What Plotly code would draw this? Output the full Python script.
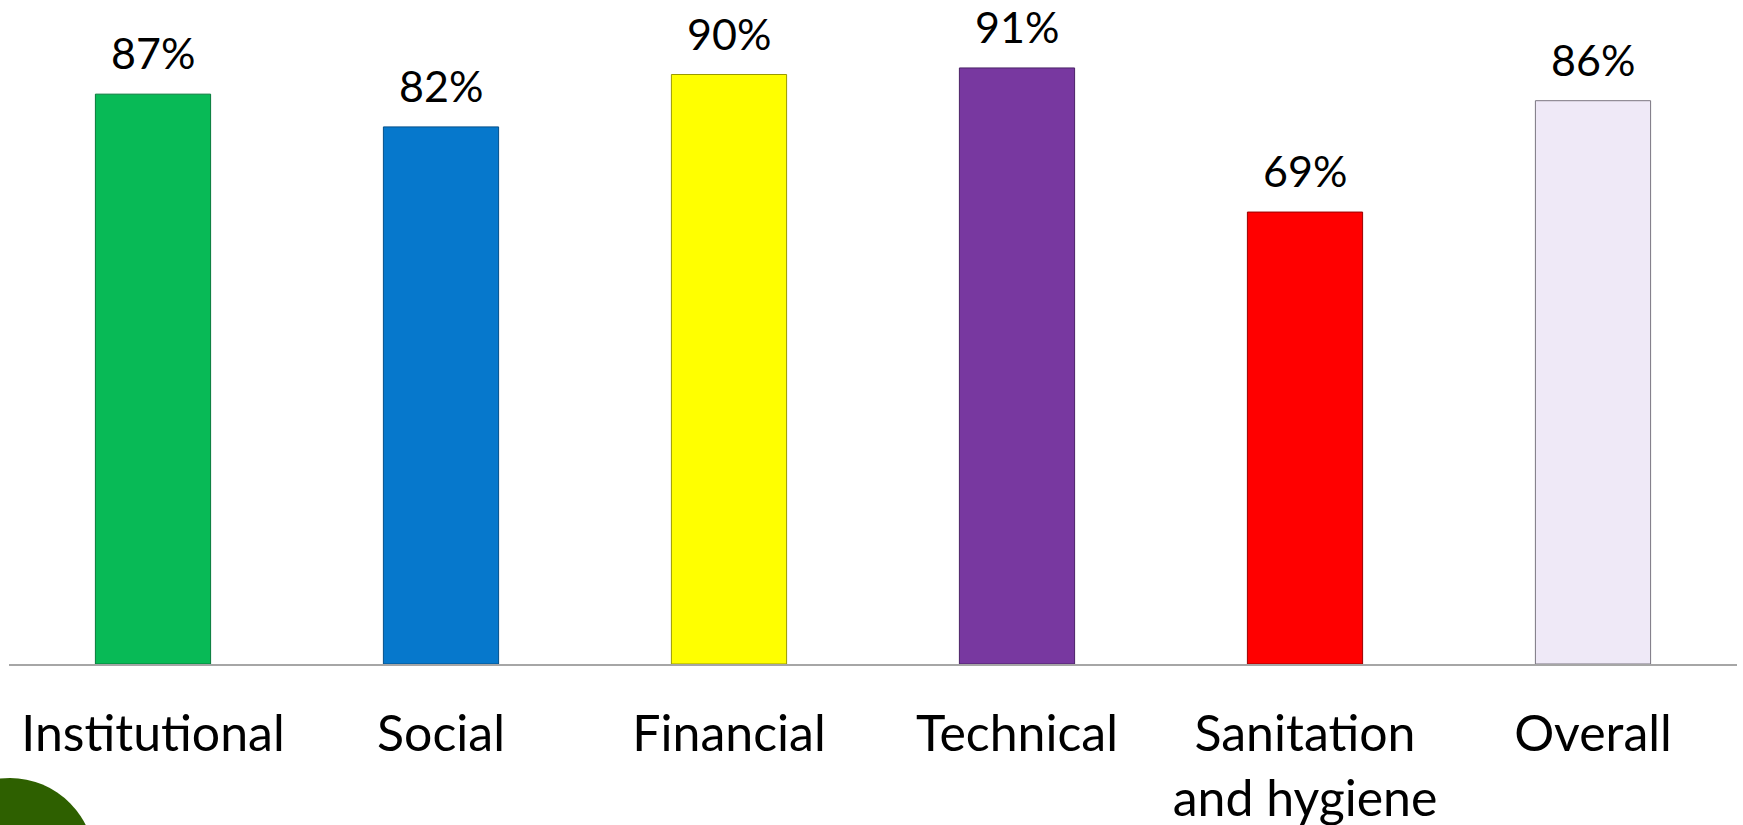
import plotly.graph_objects as go

categories = ["Institutional", "Social", "Financial", "Technical", "Sanitation<br>and hygiene", "Overall"]
values = [0.87, 0.82, 0.90, 0.91, 0.69, 0.86]
labels = ["87%", "82%", "90%", "91%", "69%", "86%"]
colors = ["#08BA56", "#0678CC", "#FFFF00", "#7838A0", "#FF0000", "#EFE9F7"]
edges = ["#067A3A", "#04508A", "#9A9A00", "#4A2266", "#9A0000", "#7A7680"]

W, H = 1743, 825
ml, mr, mt, mb = 9, 6, 9, 161

fig = go.Figure()
fig.add_trace(go.Bar(
    x=categories, y=values,
    marker=dict(color=colors, line=dict(color=edges, width=1)),
    width=0.4,
    hoverinfo="skip",
))

for c, v, t in zip(categories, values, labels):
    fig.add_annotation(x=c, y=v, text=t, showarrow=False, yanchor="bottom",
                       yshift=14, font=dict(family="Lato", size=43, color="black"))

pw = W - ml - mr
ph = H - mt - mb
def px2paper_x(p):
    return (p - ml) / pw
def px2paper_y(p):
    return (H - mb - p) / ph

# partial logo (green globe) bottom-left
fig.add_shape(type="circle", xref="paper", yref="paper",
              x0=px2paper_x(-75), x1=px2paper_x(95),
              y0=px2paper_y(950), y1=px2paper_y(778),
              fillcolor="#2E6000", line=dict(width=0), layer="above")

fig.update_layout(
    width=W, height=H,
    margin=dict(l=ml, r=mr, t=mt, b=mb, autoexpand=False),
    paper_bgcolor="white", plot_bgcolor="white",
    showlegend=False,
    xaxis=dict(showline=True, linecolor="#A6A6A6", linewidth=2, automargin=False,
               tickfont=dict(family="Lato", size=50, color="black"),
               ticklabelstandoff=25, ticks="", showgrid=False),
    yaxis=dict(range=[0, 1.0], visible=False, showgrid=False, automargin=False),
)

fig.write_html("out.html")
